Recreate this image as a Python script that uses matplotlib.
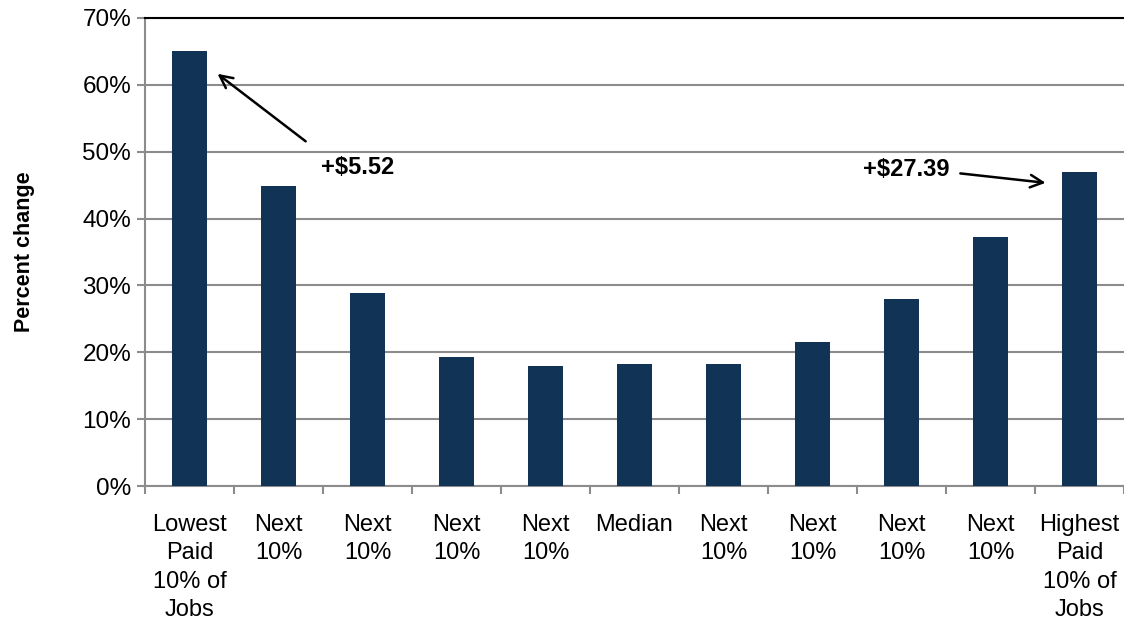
import matplotlib
matplotlib.use('Agg')
import matplotlib.pyplot as plt
import numpy as np

plt.rcParams['font.family'] = ['Liberation Sans Narrow', 'Liberation Sans', 'DejaVu Sans']

# wage groups and percent change in pay
groups = ['Lowest\nPaid\n10% of\nJobs', 'Next\n10%', 'Next\n10%', 'Next\n10%', 'Next\n10%',
          'Median', 'Next\n10%', 'Next\n10%', 'Next\n10%', 'Next\n10%',
          'Highest\nPaid\n10% of\nJobs']
pct_change = [65.0, 44.8, 28.9, 19.3, 18.0, 18.2, 18.3, 21.5, 28.0, 37.3, 47.0]
yticks = [0, 10, 20, 30, 40, 50, 60, 70]

fig = plt.figure(figsize=(11.24, 6.22), dpi=100)
ax = fig.add_axes([0.129, 0.2186, 0.871, 0.7525])

x = np.arange(len(groups))
ax.bar(x, pct_change, width=0.4, color='#113356', zorder=3)

ax.set_xlim(-0.5, len(groups) - 0.5)
ax.set_ylim(0, 70)
ax.set_yticks(yticks)
ax.set_yticklabels(['%d%%' % v for v in yticks], fontsize=17.5)
ax.yaxis.grid(True, color='#8c8c8c', linewidth=1.5, zorder=0)
ax.set_xticks(x)
ax.set_xticklabels(groups, fontsize=17, linespacing=1.38)
ax.set_xticks(np.arange(len(groups) + 1) - 0.5, minor=True)
ax.tick_params(axis='x', which='major', length=0, pad=20)
ax.tick_params(axis='x', which='minor', length=6, width=1.5, color='#8c8c8c')
ax.tick_params(axis='y', length=6, width=1.5, color='#8c8c8c', pad=4)

ax.spines['right'].set_visible(False)
ax.spines['top'].set_color('black')
ax.spines['top'].set_linewidth(1.5)
for side in ['left', 'bottom']:
    ax.spines[side].set_color('#8c8c8c')
    ax.spines[side].set_linewidth(1.5)

fig.text(0.022, 0.595, 'Percent change', rotation=90, fontsize=15.5, fontweight='bold',
         ha='center', va='center')

# dollar change callouts
arrow = dict(arrowstyle='->,head_length=0.9,head_width=0.45', color='black', lw=1.8)
ax.annotate('', xy=(0.29, 61.9), xytext=(1.33, 51.3), arrowprops=arrow)
ax.text(1.89, 47.7, '+$5.52', fontsize=17, fontweight='bold', ha='center', va='center')
ax.annotate('', xy=(9.65, 45.3), xytext=(8.63, 46.8), arrowprops=arrow)
ax.text(8.05, 47.3, '+$27.39', fontsize=17, fontweight='bold', ha='center', va='center')

fig.savefig('out.png', dpi=100)
